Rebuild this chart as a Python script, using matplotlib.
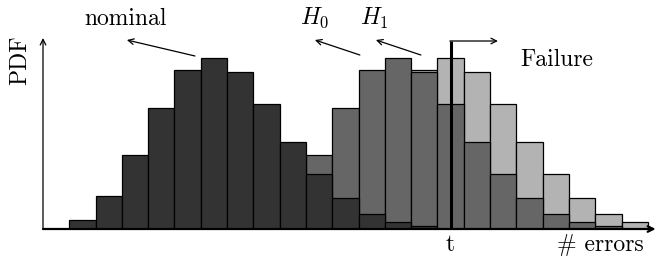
import matplotlib.pyplot as plt
import numpy as np

plt.rcParams["font.family"] = "serif"
plt.rcParams["font.serif"] = ["cmr10"]
plt.rcParams["mathtext.fontset"] = "cm"
plt.rcParams["axes.formatter.use_mathtext"] = True

# histogram heights per bin (bin index = position along # errors)
nominal_bins = list(range(1, 15))
nominal = [9, 33, 74, 121, 159, 171, 157, 125, 87, 55, 31, 15, 7, 3]
h0_bins = list(range(8, 22))
h0 = [9, 33, 74, 121, 159, 171, 157, 125, 87, 55, 31, 15, 7, 3]
h1_bins = list(range(10, 23))
h1 = [9, 33, 74, 121, 159, 171, 157, 125, 87, 55, 31, 15, 7]
threshold = 15.5

fig = plt.figure(figsize=(6.59, 2.56), dpi=100)
ax = fig.add_axes([43 / 659, 27 / 256, 614 / 659, 189 / 256])

for bins, vals, col in [(h1_bins, h1, "#b3b3b3"), (h0_bins, h0, "#666666"),
                        (nominal_bins, nominal, "#333333")]:
    ax.bar(bins, vals, width=1, align="edge", color=col, edgecolor="black", linewidth=0.9)

ax.set_xlim(0, 23.35)
ax.set_ylim(0, 189)
for s in ax.spines.values():
    s.set_visible(False)
ax.set_xticks([])
ax.set_yticks([])

# axes with arrows
ax.annotate("", xy=(23.3, 0), xytext=(0, 0), annotation_clip=False,
            arrowprops=dict(arrowstyle="->", lw=1.6, color="black", shrinkA=0, shrinkB=0))
ax.annotate("", xy=(0, 191), xytext=(0, 0), annotation_clip=False,
            arrowprops=dict(arrowstyle="->", lw=0.9, color="black", shrinkA=0, shrinkB=0))

# threshold
ax.plot([threshold, threshold], [0, 188], color="black", lw=2.2, solid_capstyle="butt")
ax.annotate("", xy=(17.3, 188), xytext=(threshold - 0.03, 188), annotation_clip=False,
            arrowprops=dict(arrowstyle="->", lw=0.9, color="black", shrinkA=0, shrinkB=0))

# label arrows
arrow = dict(arrowstyle="->", lw=0.9, color="black", shrinkA=0, shrinkB=0)
ax.annotate("", xy=(3.19, 189), xytext=(5.78, 173), annotation_clip=False, arrowprops=arrow)
ax.annotate("", xy=(10.34, 189), xytext=(12.05, 174), annotation_clip=False, arrowprops=arrow)
ax.annotate("", xy=(12.66, 189), xytext=(14.37, 174), annotation_clip=False, arrowprops=arrow)

fs = 17
ax.text(3.15, 210, "nominal", ha="center", va="center", fontsize=fs, clip_on=False)
ax.text(10.34, 211, "$H_0$", ha="center", va="center", fontsize=fs, clip_on=False)
ax.text(12.6, 211, "$H_1$", ha="center", va="center", fontsize=fs, clip_on=False)
ax.text(19.55, 169, "Failure", ha="center", va="center", fontsize=fs)
ax.text(threshold, -16, "t", ha="center", va="center", fontsize=fs, clip_on=False)
ax.text(21.2, -16, "# errors", ha="center", va="center", fontsize=fs, clip_on=False)
fig.text(20 / 659, 1 - 60 / 256, "PDF", rotation=90, ha="center", va="center", fontsize=fs)

fig.savefig("out.png", dpi=100)
